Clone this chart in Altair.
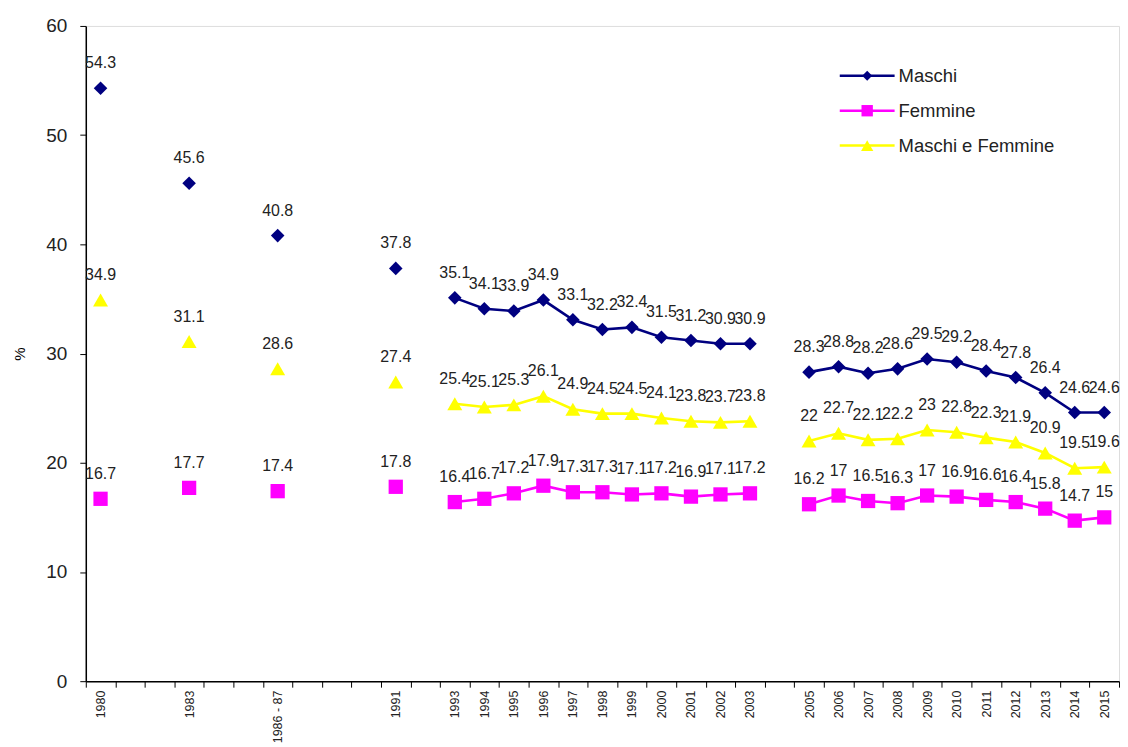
import json
import altair as alt
import pandas as pd

# x-axis slots (blank slots keep the gaps of the original category axis)
slot_labels = ["1980", "", "", "1983", "", "", "1986 - 87", "", "", "", "1991", "",
               "1993", "1994", "1995", "1996", "1997", "1998", "1999", "2000", "2001",
               "2002", "2003", "", "2005", "2006", "2007", "2008", "2009", "2010",
               "2011", "2012", "2013", "2014", "2015"]

periods = ["1980", "1983", "1986 - 87", "1991", "1993", "1994", "1995", "1996", "1997",
           "1998", "1999", "2000", "2001", "2002", "2003", "2005", "2006", "2007", "2008",
           "2009", "2010", "2011", "2012", "2013", "2014", "2015"]

maschi = [54.3, 45.6, 40.8, 37.8, 35.1, 34.1, 33.9, 34.9, 33.1, 32.2, 32.4, 31.5, 31.2,
          30.9, 30.9, 28.3, 28.8, 28.2, 28.6, 29.5, 29.2, 28.4, 27.8, 26.4, 24.6, 24.6]
femmine = [16.7, 17.7, 17.4, 17.8, 16.4, 16.7, 17.2, 17.9, 17.3, 17.3, 17.1, 17.2, 16.9,
           17.1, 17.2, 16.2, 17, 16.5, 16.3, 17, 16.9, 16.6, 16.4, 15.8, 14.7, 15]
maschi_femmine = [34.9, 31.1, 28.6, 27.4, 25.4, 25.1, 25.3, 26.1, 24.9, 24.5, 24.5, 24.1,
                  23.8, 23.7, 23.8, 22, 22.7, 22.1, 22.2, 23, 22.8, 22.3, 21.9, 20.9,
                  19.5, 19.6]

series_names = ["Maschi", "Femmine", "Maschi e Femmine"]
series_values = [maschi, femmine, maschi_femmine]
colors = ["#000080", "#FF00FF", "#FFFF00"]
shapes = ["diamond", "square", "triangle-up"]
sizes = [185, 225, 230]
legend_sizes = [100, 130, 150]

FONT = "Liberation Sans"

rows = []
for name, vals in zip(series_names, series_values):
    seg = 0
    prev = None
    for p, v in zip(periods, vals):
        slot = slot_labels.index(p)
        if prev is not None and slot != prev + 1:
            seg += 1
        prev = slot
        rows.append({"series": name, "period": p, "slot": slot, "seg": seg,
                     "value": v, "label": f"{v:g}"})
df = pd.DataFrame(rows)

label_expr = json.dumps(slot_labels) + "[datum.value]"

x_enc = alt.X(
    "slot:O",
    bandPosition=0.5,
    scale=alt.Scale(type="band", domain=list(range(len(slot_labels))),
                    paddingInner=0, paddingOuter=0),
    axis=alt.Axis(title=None, labelExpr=label_expr, labelAngle=-90, tickBand="extent",
                  labelFont=FONT, labelFontSize=12.5, labelColor="#222",
                  labelPadding=3, tickSize=6, tickColor="#000", domainColor="#000",
                  domainWidth=1.5, grid=False),
)
y_enc = alt.Y(
    "value:Q",
    scale=alt.Scale(domain=[0, 60], nice=False, zero=True),
    axis=alt.Axis(title="%", values=[0, 10, 20, 30, 40, 50, 60], grid=False,
                  labelFont=FONT, labelFontSize=19, labelColor="#222",
                  labelPadding=13, tickSize=6, tickColor="#000", domainColor="#000",
                  domainWidth=1.5, titleFont=FONT, titleFontSize=15,
                  titleFontWeight="normal", titleColor="#000", titlePadding=18),
)
color_enc = alt.Color("series:N", scale=alt.Scale(domain=series_names, range=colors),
                      legend=None)

base = alt.Chart(df)

lines = base.mark_line(strokeWidth=2.6).encode(
    x=x_enc, y=y_enc, color=color_enc, detail="seg:N")

points = base.mark_point(filled=True, opacity=1).encode(
    x=x_enc, y=y_enc, color=color_enc,
    shape=alt.Shape("series:N", scale=alt.Scale(domain=series_names, range=shapes),
                    legend=None),
    size=alt.Size("series:N", scale=alt.Scale(domain=series_names, range=sizes),
                  legend=None),
)

texts = base.mark_text(dy=-20, baseline="alphabetic", font=FONT, fontSize=16,
                       color="#222").encode(x=x_enc, y=y_enc, text="label:N")

layers = [lines, points, texts]

# manual legend (line + marker + label), top right inside the plot
for i, name in enumerate(series_names):
    ly = 50 + 35 * i
    ldf = pd.DataFrame({"s": [name]})
    layers.append(alt.Chart(ldf).mark_rule(color=colors[i], strokeWidth=2.5).encode(
        x=alt.value(756), x2=alt.value(811), y=alt.value(ly)))
    layers.append(alt.Chart(ldf).mark_point(shape=shapes[i], filled=True, opacity=1,
                                            color=colors[i], size=legend_sizes[i]).encode(
        x=alt.value(783.5), y=alt.value(ly)))
    layers.append(alt.Chart(ldf).mark_text(align="left", baseline="middle", font=FONT,
                                           fontSize=18.5, color="#222").encode(
        x=alt.value(815), y=alt.value(ly), text="s:N"))

chart = alt.layer(*layers).properties(
    width=1036, height=657,
    padding={"left": 4, "top": 8, "right": 0, "bottom": 0},
).configure_view(stroke=None).configure(background="white")

chart.save("out.html", embed_options={"renderer": "svg", "actions": False})
